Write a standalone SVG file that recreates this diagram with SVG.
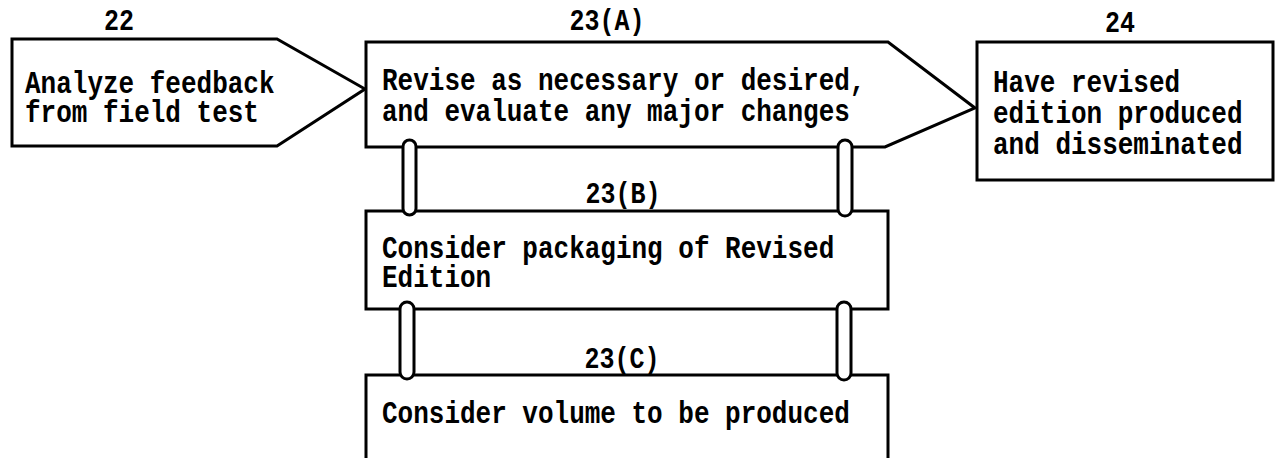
<svg xmlns="http://www.w3.org/2000/svg" width="1277" height="458" viewBox="0 0 1277 458">
<style>
.box{fill:#fff;stroke:#000;stroke-width:3;stroke-linejoin:miter}
.pipe{fill:#fff;stroke:#000;stroke-width:3}
.t{font-family:"Liberation Mono","Courier New",monospace;font-weight:bold;font-size:26px;fill:#000}
.lbl{font-family:"Liberation Mono","Courier New",monospace;font-weight:bold;font-size:25px;fill:#000;text-anchor:middle}
</style>
<rect width="1277" height="458" fill="#fff"/>
<g id="n22">
<polygon class="box" points="12,39 277,39 365,89 277,146 12,146"/>
<text class="lbl" transform="translate(119,30) scale(1,1.2)">22</text>
<text class="t" transform="translate(25,93) scale(1,1.2)"><tspan x="0" y="0">Analyze feedback</tspan><tspan x="0" y="24.5">from field test</tspan></text>
</g>
<g id="n23A">
<polygon class="box" points="366,42 888,42 975,108 885,147 366,147"/>
<text class="lbl" transform="translate(607,30) scale(1,1.2)">23(A)</text>
<text class="t" transform="translate(382,90) scale(1,1.2)"><tspan x="0" y="0">Revise as necessary or desired,</tspan><tspan x="0" y="26">and evaluate any major changes</tspan></text>
</g>
<g id="n24">
<rect class="box" x="977" y="42" width="296" height="138"/>
<text class="lbl" transform="translate(1120,32) scale(1,1.2)">24</text>
<text class="t" transform="translate(993,92) scale(1,1.2)"><tspan x="0" y="0">Have revised</tspan><tspan x="0" y="26">edition produced</tspan><tspan x="0" y="52">and disseminated</tspan></text>
</g>
<g id="n23B">
<rect class="box" x="366" y="211" width="522" height="98"/>
<text class="lbl" transform="translate(623,203) scale(1,1.2)">23(B)</text>
<text class="t" transform="translate(382,258) scale(1,1.2)"><tspan x="0" y="0">Consider packaging of Revised</tspan><tspan x="0" y="24.5">Edition</tspan></text>
</g>
<g id="n23C">
<path class="box" d="M366,470 V375 H888 V470"/>
<text class="lbl" transform="translate(622,368) scale(1,1.2)">23(C)</text>
<text class="t" transform="translate(382,423) scale(1,1.2)">Consider volume to be produced</text>
</g>
<g id="connectors">
<rect class="pipe" x="403" y="140" width="13" height="75" rx="6.5"/>
<rect class="pipe" x="838" y="140" width="14" height="76" rx="7"/>
<rect class="pipe" x="400" y="302" width="14" height="77" rx="7"/>
<rect class="pipe" x="837" y="302" width="14" height="78" rx="7"/>
</g>
</svg>
